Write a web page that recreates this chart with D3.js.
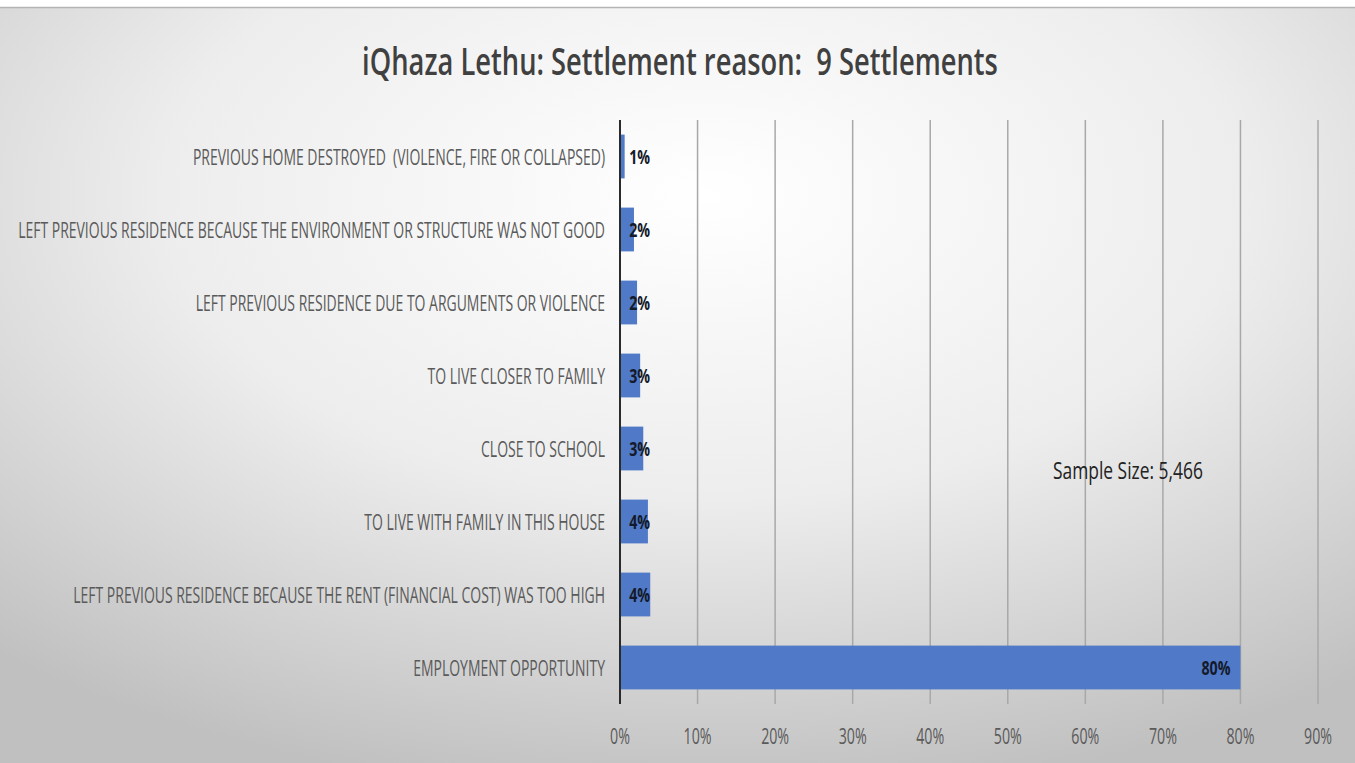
<!DOCTYPE html>
<html>
<head>
<meta charset="utf-8">
<script src="https://cdn.jsdelivr.net/npm/d3@7"></script>
<style>
  html, body { margin: 0; padding: 0; background: #ffffff; }
  svg { display: block; }
  text { font-family: "Open Sans", "Noto Sans", sans-serif; white-space: pre; }
</style>
</head>
<body>
<svg id="chart" width="1355" height="763"></svg>
<script>
// Settlement reasons, bottom to top as drawn in the chart
const categories = [
  "EMPLOYMENT OPPORTUNITY",
  "LEFT PREVIOUS RESIDENCE BECAUSE THE RENT (FINANCIAL COST) WAS TOO HIGH",
  "TO LIVE WITH FAMILY IN THIS HOUSE",
  "CLOSE TO SCHOOL",
  "TO LIVE CLOSER TO FAMILY",
  "LEFT PREVIOUS RESIDENCE DUE TO ARGUMENTS OR VIOLENCE",
  "LEFT PREVIOUS RESIDENCE BECAUSE THE ENVIRONMENT OR STRUCTURE WAS NOT GOOD",
  "PREVIOUS HOME DESTROYED  (VIOLENCE, FIRE OR COLLAPSED)"
];
// Share of respondents per reason
const shares = [0.80, 0.039, 0.036, 0.030, 0.026, 0.022, 0.018, 0.006];
const tickValues = [0, 0.1, 0.2, 0.3, 0.4, 0.5, 0.6, 0.7, 0.8, 0.9];
const titleText = "iQhaza Lethu: Settlement reason:  9 Settlements";
const sampleNote = "Sample Size: 5,466";

const W = 1355, H = 763;
const svg = d3.select("#chart");
const plot = { left: 620, right: 1318, top: 120, bottom: 704 };

// Background panel with soft radial shading
const defs = svg.append("defs");
const grad = defs.append("radialGradient")
  .attr("id", "bg").attr("cx", "52%").attr("cy", "25%").attr("r", "80%");
grad.append("stop").attr("offset", "0%").attr("stop-color", "#ffffff");
grad.append("stop").attr("offset", "50%").attr("stop-color", "#ededed");
grad.append("stop").attr("offset", "100%").attr("stop-color", "#c0c0c0");

svg.append("rect").attr("x", 0).attr("y", 0).attr("width", W).attr("height", H).attr("fill", "#ffffff");
svg.append("rect").attr("x", 0).attr("y", 7).attr("width", W).attr("height", H - 7).attr("fill", "url(#bg)");
svg.append("line").attr("x1", 0).attr("x2", W).attr("y1", 7.5).attr("y2", 7.5)
  .attr("stroke", "#b4b4b4").attr("stroke-width", 1.5);

const x = d3.scaleLinear().domain([0, 0.9]).range([plot.left, plot.right]);
const y = d3.scaleBand().domain(categories.slice().reverse())
  .range([plot.top, plot.bottom]).paddingInner(0.4).paddingOuter(0.2);

// Horizontally condense a text element around its anchor point
function squeeze(sel, factor) {
  sel.each(function () {
    const t = d3.select(this);
    const tx = +t.attr("x"), ty = +t.attr("y");
    t.attr("x", 0).attr("y", 0)
     .attr("transform", `translate(${tx},${ty}) scale(${factor},1)`);
  });
}

// Vertical gridlines
svg.append("g").selectAll("line").data(tickValues.slice(1)).join("line")
  .attr("x1", d => x(d)).attr("x2", d => x(d))
  .attr("y1", plot.top).attr("y2", plot.bottom)
  .attr("stroke", "#a8a8a8").attr("stroke-width", 1.5);

// Bars
svg.append("g").selectAll("rect").data(categories).join("rect")
  .attr("x", x(0))
  .attr("y", d => y(d))
  .attr("width", (d, i) => x(shares[i]) - x(0))
  .attr("height", y.bandwidth())
  .attr("fill", "#5079c8");

// Category axis line
svg.append("line").attr("x1", x(0)).attr("x2", x(0))
  .attr("y1", plot.top).attr("y2", plot.bottom)
  .attr("stroke", "#2b2b2b").attr("stroke-width", 2);

// Category labels
const catLabels = svg.append("g").selectAll("text").data(categories).join("text")
  .attr("x", 605).attr("y", d => y(d) + y.bandwidth() / 2)
  .attr("text-anchor", "end").attr("dominant-baseline", "central")
  .attr("font-size", 21.5).attr("fill", "#5a5a5a")
  .text(d => d);
const longest = d3.max(catLabels.nodes(), n => n.getComputedTextLength());
squeeze(catLabels, 587 / longest);

// Value tick labels along the bottom
const tickLabels = svg.append("g").selectAll("text").data(tickValues).join("text")
  .attr("x", d => x(d)).attr("y", 736)
  .attr("text-anchor", "middle").attr("dominant-baseline", "central")
  .attr("font-size", 21).attr("fill", "#5a5a5a")
  .text(d3.format(".0%"));
const tickW = tickLabels.nodes()[1].getComputedTextLength();
squeeze(tickLabels, 28 / tickW);

// Data labels
const fmt = d3.format(".0%");
const valLabels = svg.append("g").selectAll("text").data(categories).join("text")
  .attr("x", (d, i) => Math.max(x(shares[i]) - 10, 650))
  .attr("y", d => y(d) + y.bandwidth() / 2)
  .attr("text-anchor", "end").attr("dominant-baseline", "central")
  .attr("font-size", 19).attr("font-weight", 700).attr("fill", "#141a2a")
  .text((d, i) => fmt(shares[i]));
const valW = valLabels.nodes()[0].getComputedTextLength();
squeeze(valLabels, 29 / valW);

// Title
const title = svg.append("text")
  .attr("x", 680).attr("y", 61)
  .attr("text-anchor", "middle").attr("dominant-baseline", "central")
  .attr("font-size", 37).attr("font-weight", 600).attr("fill", "#404040")
  .text(titleText);
squeeze(title, 636 / title.node().getComputedTextLength());

// Sample size note
const note = svg.append("text")
  .attr("x", 1053).attr("y", 470)
  .attr("text-anchor", "start").attr("dominant-baseline", "central")
  .attr("font-size", 23).attr("fill", "#222222")
  .text(sampleNote);
squeeze(note, 150 / note.node().getComputedTextLength());
</script>
</body>
</html>
